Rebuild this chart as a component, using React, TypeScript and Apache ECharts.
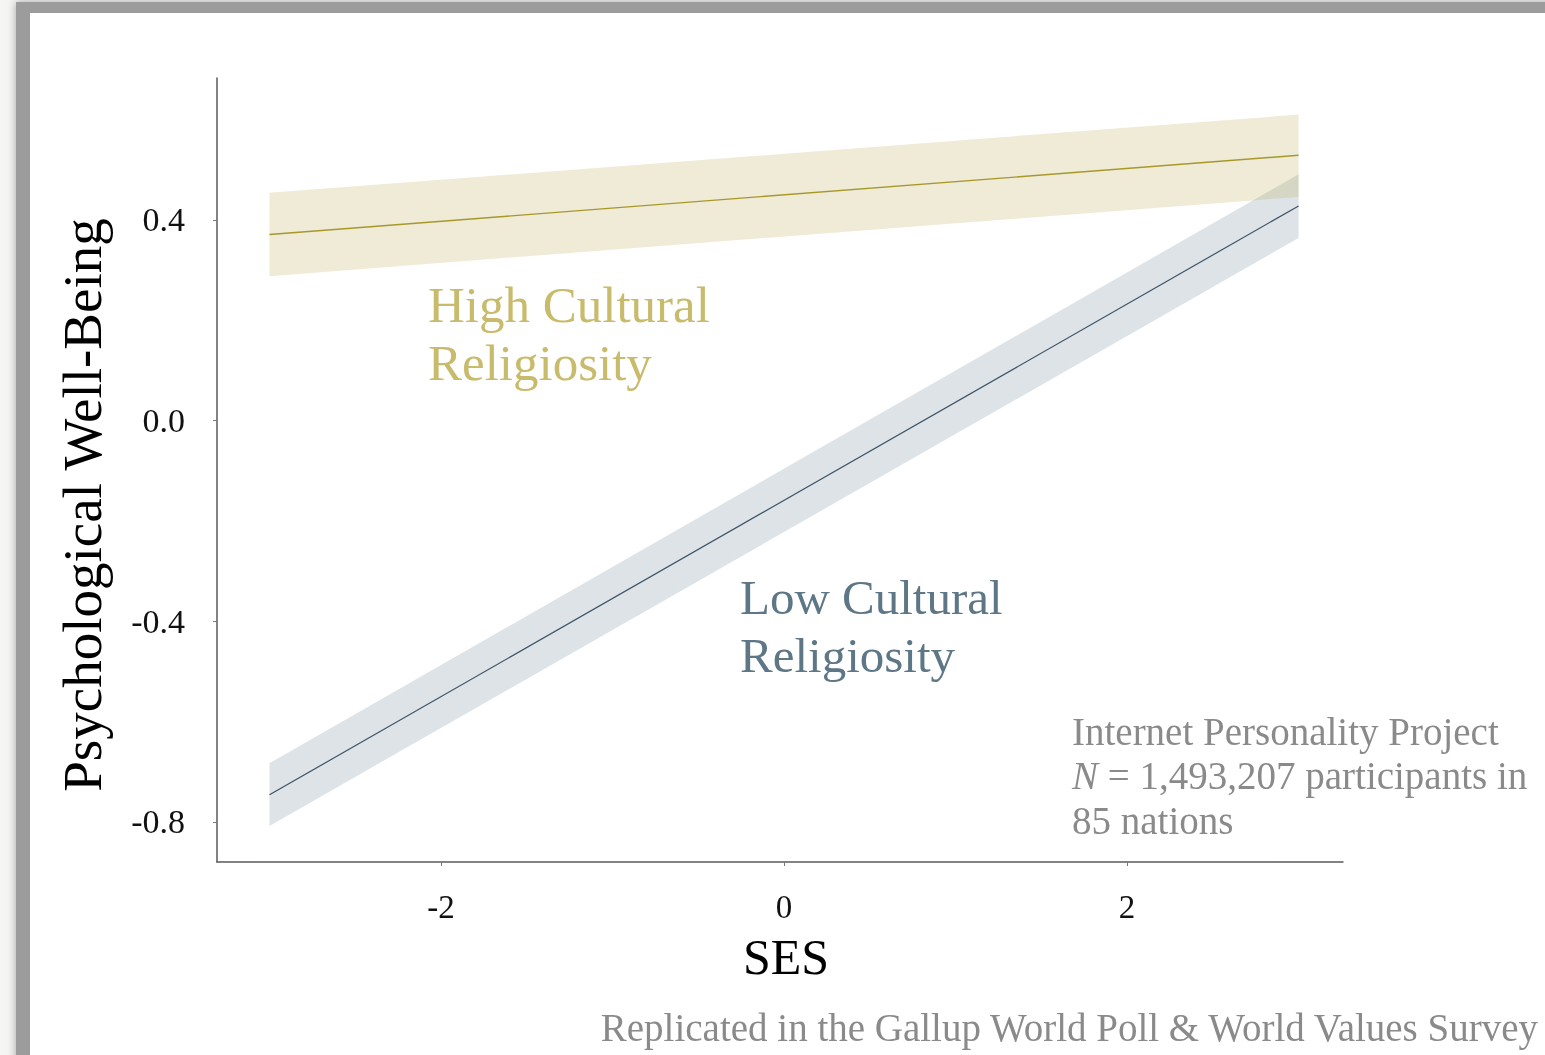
import React, { useEffect, useRef } from "react";
import * as echarts from "echarts";

// SES values (x) at the ends of the fitted lines
const sesX = [-3, 3];
// High cultural religiosity: fit and confidence band
const highFit = [0.371, 0.529];
const highLower = [0.288, 0.446];
const highUpper = [0.454, 0.61];
// Low cultural religiosity: fit and confidence band
const lowFit = [-0.746, 0.428];
const lowLower = [-0.808, 0.364];
const lowUpper = [-0.683, 0.491];

const xTicks = [-2, 0, 2];
const yTicks = [-0.8, -0.4, 0, 0.4];

const SERIF = "'Liberation Serif', 'DejaVu Serif', serif";

function bandSeries(lower: number[], upper: number[], color: string, z: number) {
  return {
    type: "custom",
    silent: true,
    z,
    data: sesX.map((x, i) => [x, lower[i], upper[i]]),
    encode: { x: 0, y: [1, 2] },
    renderItem: (params: any, api: any) => {
      const i = params.dataIndex;
      if (i >= sesX.length - 1) return null;
      const a0 = api.coord([sesX[i], lower[i]]);
      const a1 = api.coord([sesX[i + 1], lower[i + 1]]);
      const b1 = api.coord([sesX[i + 1], upper[i + 1]]);
      const b0 = api.coord([sesX[i], upper[i]]);
      return {
        type: "polygon",
        shape: { points: [a0, a1, b1, b0] },
        style: { fill: color },
      };
    },
  };
}

export default function App() {
  const ref = useRef<HTMLDivElement>(null);

  useEffect(() => {
    document.body.style.margin = "0";
    const chart = echarts.init(ref.current!, undefined, { renderer: "svg" });
    const pts = (ys: number[]) => sesX.map((x, i) => [x, ys[i]]);

    const option: any = {
      animation: false,
      backgroundColor: "transparent",
      grid: { left: 217, right: 202, top: 78, bottom: 193, containLabel: false, outerBoundsMode: "none" },
      xAxis: {
        type: "value",
        min: -3.306,
        max: 3.259,
        splitLine: { show: false },
        axisLine: { show: true, onZero: false, lineStyle: { color: "#5a5a5a", width: 1.5 } },
        axisTick: { show: true, customValues: xTicks, length: 4, lineStyle: { color: "#777" } },
        axisLabel: {
          customValues: xTicks,
          margin: 28,
          fontFamily: SERIF,
          fontSize: 33,
          color: "#111",
          formatter: (v: number) => String(Math.round(v)),
        },
        name: "SES",
        nameLocation: "middle",
        nameGap: 70,
        nameTextStyle: { fontFamily: SERIF, fontSize: 50, color: "#000", padding: [0, 0, 0, 12] },
      },
      yAxis: {
        type: "value",
        min: -0.88,
        max: 0.683,
        splitLine: { show: false },
        axisLine: { show: true, onZero: false, lineStyle: { color: "#5a5a5a", width: 1.5 } },
        axisTick: { show: true, customValues: yTicks, length: 4, lineStyle: { color: "#777" } },
        axisLabel: {
          customValues: yTicks,
          margin: 32,
          fontFamily: SERIF,
          fontSize: 34,
          color: "#111",
          formatter: (v: number) => v.toFixed(1),
        },
      },
      graphic: [
        { type: "rect", z: -100, silent: true, shape: { x: 0, y: 0, width: 1545, height: 1055 }, style: { fill: "#f5f5f3" } },
        {
          type: "rect",
          z: -99,
          silent: true,
          shape: { x: 16, y: 2, width: 1560, height: 1100 },
          style: { fill: "#9c9c9c", shadowBlur: 10, shadowColor: "#a5a5a5" },
        },
        { type: "rect", z: -98, silent: true, shape: { x: 30, y: 13, width: 1515, height: 1042 }, style: { fill: "#ffffff" } },
        {
          type: "text",
          x: 82,
          y: 505,
          rotation: Math.PI / 2,
          style: {
            text: "Psychological Well-Being",
            font: `55px ${SERIF}`,
            fill: "#000",
            align: "center",
            verticalAlign: "middle",
          },
        },
        {
          type: "text",
          x: 428,
          y: 276,
          style: {
            text: "High Cultural\nReligiosity",
            font: `51px ${SERIF}`,
            fill: "#c9bb6c",
            lineHeight: 58,
          },
        },
        {
          type: "text",
          x: 740,
          y: 568,
          style: {
            text: "Low Cultural\nReligiosity",
            font: `49px ${SERIF}`,
            fill: "#5e7787",
            lineHeight: 58,
          },
        },
        {
          type: "text",
          x: 1072,
          y: 709,
          style: {
            text: "Internet Personality Project\n{i|N} = 1,493,207 participants in\n85 nations",
            font: `39px ${SERIF}`,
            fill: "#8a8a8a",
            lineHeight: 44.5,
            rich: { i: { font: `italic 39px ${SERIF}`, fill: "#8a8a8a", lineHeight: 44.5 } },
          },
        },
        {
          type: "text",
          x: 1538,
          y: 1027,
          style: {
            text: "Replicated in the Gallup World Poll & World Values Survey",
            font: `39px ${SERIF}`,
            fill: "#8a8a8a",
            align: "right",
            verticalAlign: "middle",
          },
        },
      ],
      series: [
        bandSeries(lowLower, lowUpper, "rgba(125,145,160,0.25)", 1),
        bandSeries(highLower, highUpper, "rgba(190,175,90,0.25)", 2),
        {
          type: "line",
          data: pts(lowFit),
          symbol: "none",
          lineStyle: { color: "#3e5468", width: 1.2 },
          z: 3,
        },
        {
          type: "line",
          data: pts(highFit),
          symbol: "none",
          lineStyle: { color: "#a8982a", width: 1.4 },
          z: 3,
        },
      ],
    };
    chart.setOption(option);
    return () => chart.dispose();
  }, []);

  return <div ref={ref} style={{ position: "fixed", left: 0, top: 0, width: 1545, height: 1055 }} />;
}
